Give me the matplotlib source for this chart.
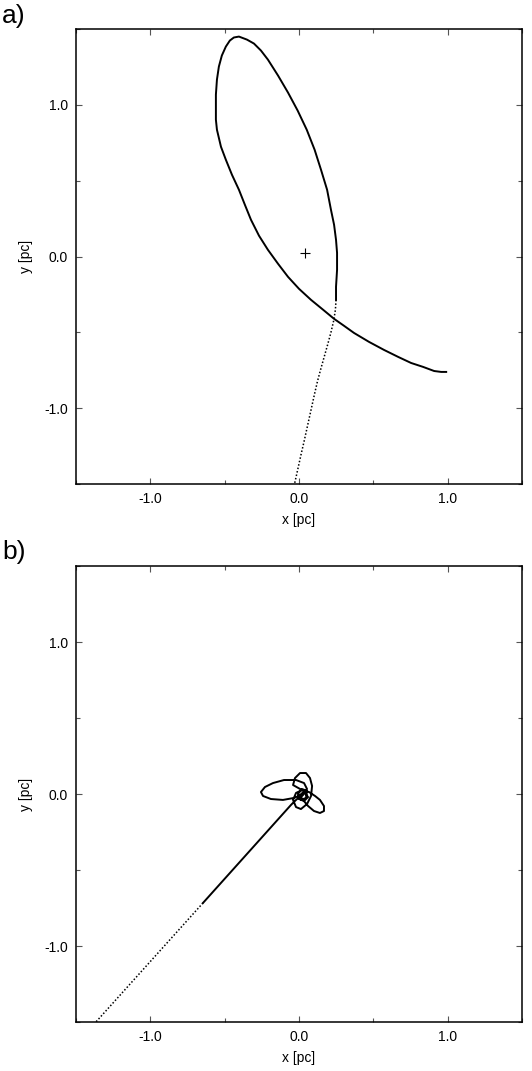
import matplotlib
matplotlib.use('Agg')
import matplotlib.pyplot as plt
from matplotlib.ticker import MultipleLocator, FixedFormatter, FixedLocator

plt.rcParams['font.family'] = ['Liberation Sans', 'DejaVu Sans']

# panel a: orbit (pc)
# dotted part (incoming)
a_dot_x = [0.249, 0.245, 0.234, 0.215, 0.193, 0.170, 0.147, 0.125, 0.106,
           0.088, 0.070, 0.052, 0.034, 0.015, -0.003, -0.021, -0.040]
a_dot_y = [-0.286, -0.350, -0.420, -0.500, -0.580, -0.660, -0.740, -0.820,
           -0.900, -0.980, -1.060, -1.140, -1.220, -1.300, -1.380, -1.460,
           -1.540]

# solid part
a_x = [0.249, 0.249, 0.256, 0.256, 0.249, 0.236, 0.215, 0.189, 0.148, 0.105,
       0.052, -0.009, -0.074, -0.141, -0.209, -0.256, -0.303, -0.350, -0.404,
       -0.438, -0.465, -0.492, -0.519, -0.539, -0.552, -0.559, -0.559, -0.559,
       -0.552, -0.525, -0.492, -0.451, -0.404, -0.364, -0.323, -0.269, -0.209,
       -0.141, -0.074, 0.0, 0.081, 0.162, 0.236, 0.303, 0.370, 0.471, 0.572,
       0.667, 0.754, 0.835, 0.909, 0.956, 0.990]
a_y = [-0.286, -0.200, -0.088, 0.024, 0.110, 0.209, 0.308, 0.440, 0.572, 0.704,
       0.836, 0.962, 1.081, 1.193, 1.298, 1.358, 1.404, 1.430, 1.450,
       1.444, 1.424, 1.384, 1.325, 1.252, 1.166, 1.067, 0.982, 0.902,
       0.836, 0.724, 0.638, 0.539, 0.440, 0.341, 0.242, 0.137, 0.044,
       -0.048, -0.134, -0.213, -0.286, -0.351, -0.411, -0.457, -0.504, -0.563,
       -0.616, -0.662, -0.702, -0.728, -0.755, -0.761, -0.761]
a_centre = (0.04, 0.02)

# panel b
b_dot_x = [-1.38, -0.646]
b_dot_y = [-1.515, -0.717]

b_x = [-0.646, -0.054, -0.020, 0.020,
       0.054, 0.034, -0.020, -0.101, -0.175, -0.229, -0.256, -0.242, -0.189,
       -0.108, -0.034, 0.013,
       0.040, 0.020, -0.040, -0.027, 0.007, 0.047, 0.074, 0.088, 0.081, 0.054,
       0.013, -0.020, -0.040, -0.020, 0.020,
       0.067, 0.108, 0.141, 0.168, 0.168, 0.141, 0.101, 0.061, 0.027, 0.013,
       0.040, 0.061, 0.034, 0.0, -0.007, 0.020, 0.054, 0.047, 0.013, 0.007,
       0.034]
b_y = [-0.717, -0.072, -0.039, -0.007,
       0.033, 0.072, 0.092, 0.092, 0.072, 0.046, 0.013, -0.013, -0.033,
       -0.039, -0.026, -0.007,
       0.026, 0.026, 0.059, 0.105, 0.138, 0.138, 0.105, 0.053, -0.013, -0.066,
       -0.099, -0.086, -0.039, 0.007, 0.026,
       0.013, -0.013, -0.039, -0.079, -0.112, -0.125, -0.112, -0.079, -0.039,
       -0.020,
       0.007, -0.020, -0.046, -0.033, 0.0, 0.033, 0.020, -0.026, -0.039,
       -0.007, 0.013]

ticks = [-1.0, 0.0, 1.0]
tick_labels = ['-1.0', '0.0', '1.0']

fig = plt.figure(figsize=(5.32, 10.71), dpi=100)
ax_a = fig.add_axes([76/532, 1-484/1071, 446/532, 455/1071])
ax_b = fig.add_axes([76/532, 1-1022/1071, 446/532, 456/1071])

ax_a.plot(a_dot_x, a_dot_y, color='black', lw=1.1, ls=(0, (1, 1.3)))
ax_a.plot(a_x, a_y, color='black', lw=1.4, solid_joinstyle='round')
ax_a.plot(*a_centre, marker='+', color='black', ms=7, mew=0.8)

ax_b.plot(b_dot_x, b_dot_y, color='black', lw=1.1, ls=(0, (1, 1.3)))
ax_b.plot(b_x, b_y, color='black', lw=1.4, solid_joinstyle='round')

for ax in (ax_a, ax_b):
    ax.set_xlim(-1.5, 1.5)
    ax.set_ylim(-1.5, 1.5)
    ax.xaxis.set_major_locator(FixedLocator(ticks))
    ax.yaxis.set_major_locator(FixedLocator(ticks))
    ax.xaxis.set_major_formatter(FixedFormatter(tick_labels))
    ax.yaxis.set_major_formatter(FixedFormatter(tick_labels))
    ax.xaxis.set_minor_locator(MultipleLocator(0.5))
    ax.yaxis.set_minor_locator(MultipleLocator(0.5))
    ax.tick_params(which='both', direction='in', top=True, right=True,
                   color='#555555', width=0.8, labelsize=10, pad=6)
    ax.tick_params(which='major', length=4)
    ax.tick_params(which='minor', length=3)
    for s in ax.spines.values():
        s.set_linewidth(1.1)
    ax.set_xlabel('x [pc]', fontsize=10, labelpad=5)
    ax.set_ylabel('y [pc]', fontsize=10, labelpad=8)

fig.text(2/532, 1-4/1071, 'a)', fontsize=19, va='top', ha='left')
fig.text(2/532, 1-540/1071, 'b)', fontsize=19, va='top', ha='left')

fig.savefig('out.png', dpi=100)
